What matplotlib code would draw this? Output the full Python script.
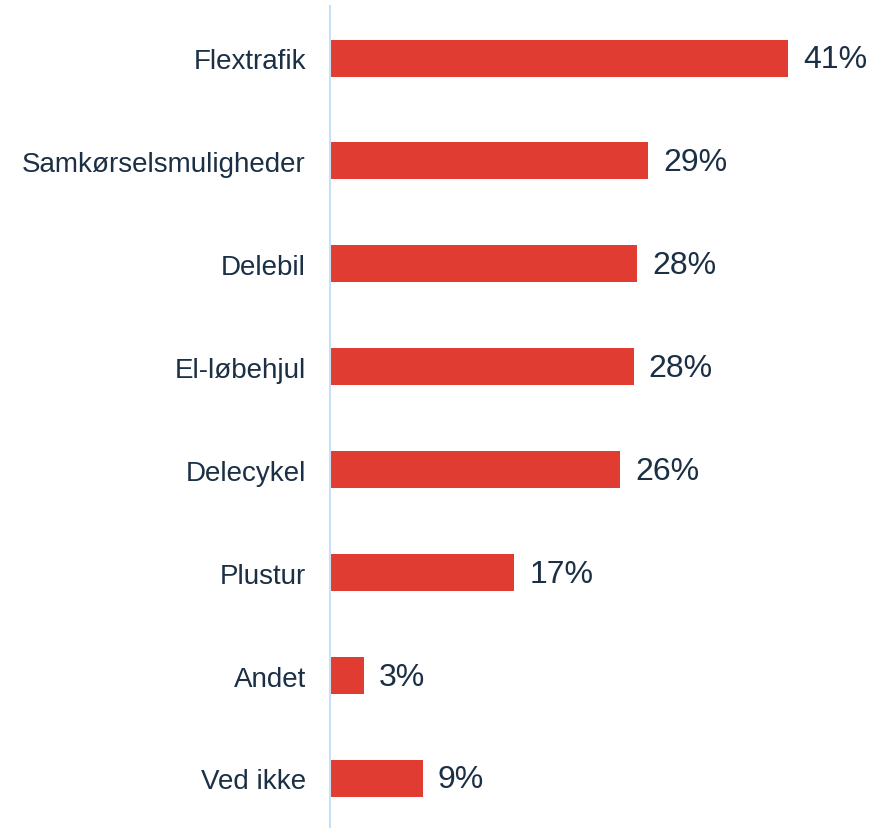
import matplotlib
matplotlib.use("Agg")
import matplotlib.pyplot as plt

categories = ["Flextrafik", "Samkørselsmuligheder", "Delebil", "El-løbehjul",
              "Delecykel", "Plustur", "Andet", "Ved ikke"]
values = [41.0, 28.5, 27.5, 27.2, 26.0, 16.5, 3.0, 8.3]
value_labels = ["41%", "29%", "28%", "28%", "26%", "17%", "3%", "9%"]

BAR_COLOR = "#E03C31"
TEXT_COLOR = "#1B2F45"
AXIS_COLOR = "#C9DFF2"

plt.rcParams['font.family'] = ['Liberation Sans', 'DejaVu Sans']

W, H = 877, 829
fig = plt.figure(figsize=(W / 100, H / 100), dpi=100)
ax = fig.add_axes([330 / W, 0, (W - 330) / W, 1])

for s in ["top", "right", "bottom"]:
    ax.spines[s].set_visible(False)

px_per_unit = 458 / 41.0
ax.set_xlim(0, (W - 330) / px_per_unit)
spacing = 102.9
top = -59.0 / spacing
bottom = (len(categories) - 1) + (H - 779.5) / spacing
ax.set_ylim(bottom, top)

ypos = list(range(len(categories)))
ax.barh(ypos, values, height=37 / spacing, color=BAR_COLOR, left=0)

for y, v, lab in zip(ypos, values, value_labels):
    ax.annotate(lab, xy=(v, y), xytext=(15, -1), textcoords="offset pixels",
                va="center", ha="left", fontsize=23, color=TEXT_COLOR)

ax.set_yticks(ypos)
ax.set_yticklabels(categories, fontsize=20, color=TEXT_COLOR)
ax.tick_params(axis="y", length=0, pad=24 * 72 / 100)
ax.set_xticks([])

ax.spines["left"].set_color(AXIS_COLOR)
ax.spines["left"].set_linewidth(1.5)
ax.spines["left"].set_bounds(top + 7 / spacing, bottom)

fig.savefig("out.png", dpi=100)
